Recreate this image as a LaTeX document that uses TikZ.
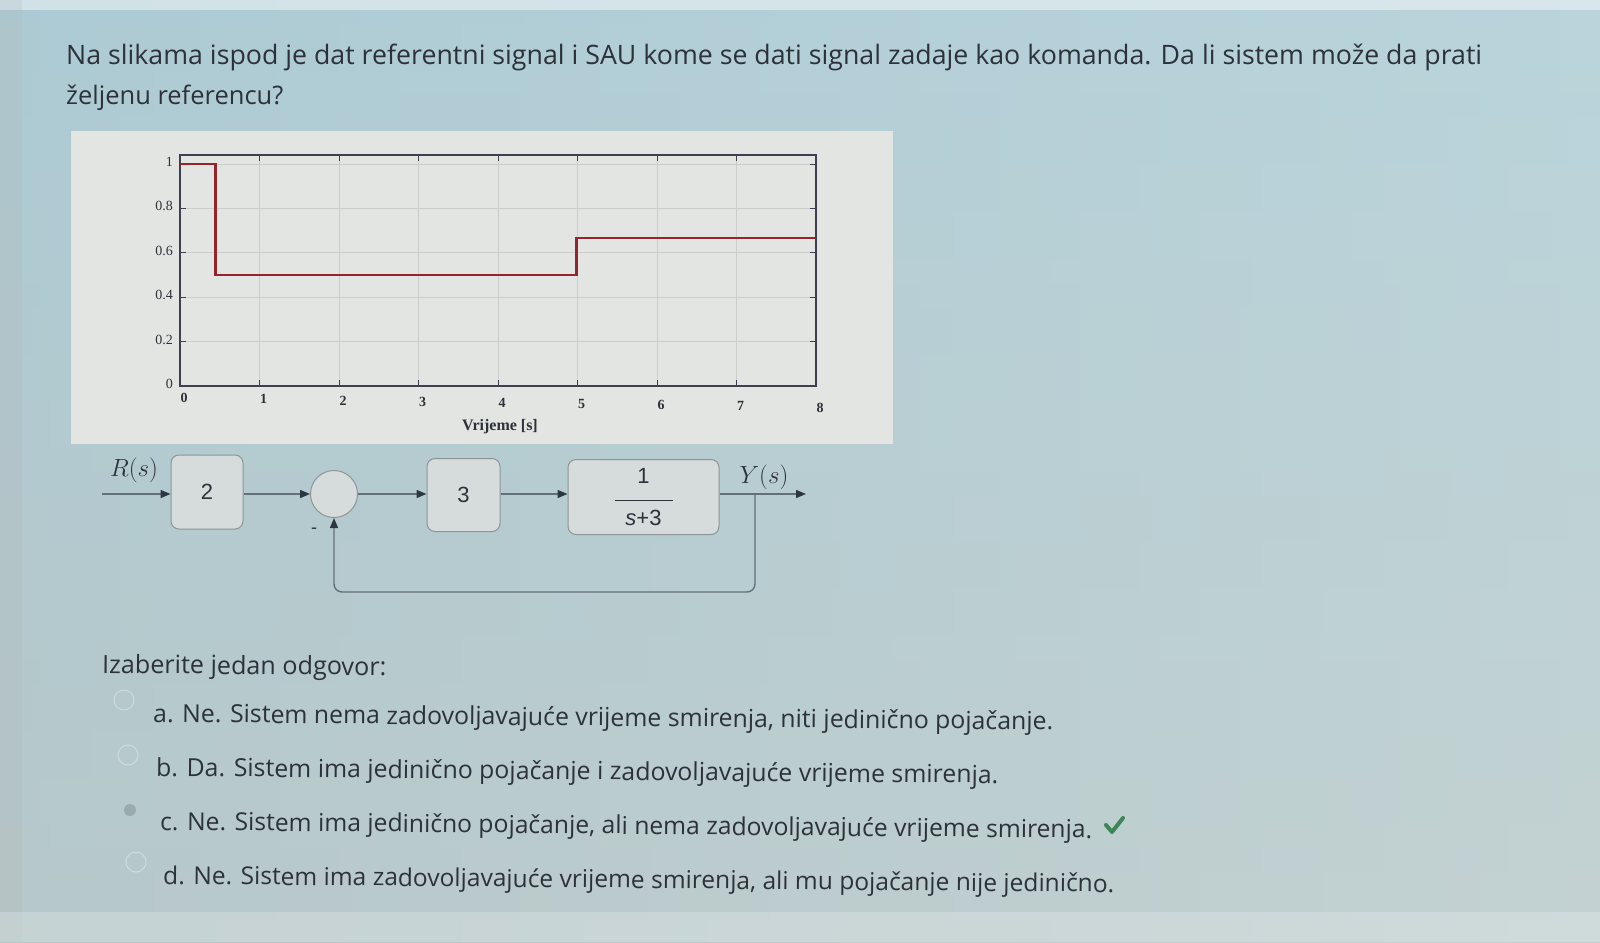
\documentclass[tikz,border=0pt]{standalone}
\usepackage{fontspec}
\setmainfont{Open Sans}
\newfontfamily\serif{Liberation Serif}
\newfontfamily\lsans{Liberation Sans}
\usetikzlibrary{arrows.meta,calc}
\definecolor{bgL}{RGB}{176,200,206}
\definecolor{bgR}{RGB}{202,220,222}
\definecolor{bgT}{RGB}{170,205,218}
\definecolor{bgB}{RGB}{190,200,198}
\definecolor{panel}{RGB}{226,229,226}
\definecolor{gridc}{RGB}{203,207,204}
\definecolor{axc}{RGB}{60,64,80}
\definecolor{sigred}{RGB}{150,36,44}
\definecolor{blkfill}{RGB}{214,219,219}
\definecolor{blkdraw}{RGB}{140,150,152}
\definecolor{wire}{RGB}{100,112,120}
\definecolor{tipc}{RGB}{45,55,65}
\definecolor{txt}{RGB}{45,50,58}
\definecolor{okgreen}{RGB}{60,135,85}
\begin{document}
\begin{tikzpicture}[x=1pt,y=-1pt,
  qtext/.style={anchor=base west,inner sep=0pt,text=txt,font=\fontsize{24}{28}\selectfont},
  atext/.style={anchor=base west,inner sep=0pt,text=txt,rotate=-0.5,font=\fontsize{22}{26}\selectfont},
  ticklab/.style={inner sep=0pt,text=txt,font=\serif\fontsize{14}{16}\selectfont},
  blk/.style={draw=blkdraw,fill=blkfill,rounded corners=8pt,line width=1pt,inner sep=0pt,text=txt,font=\lsans\fontsize{22}{26}\selectfont},
  sumc/.style={draw=blkdraw,fill=blkfill,circle,line width=1pt,minimum size=47pt,inner sep=0pt},
  wireln/.style={draw=wire,line width=1.4pt,-{Triangle[length=10pt,width=8pt,fill=tipc,color=tipc]}},
  sig/.style={inner sep=0pt,text=txt,font=\fontsize{24}{28}\selectfont},
  radio/.style={draw=white,opacity=0.35,line width=1pt}
]
\useasboundingbox (0,0) rectangle (1600,942);
% background
\shade[left color=bgL,right color=bgR] (0,0) rectangle (1600,942);
\shade[top color=bgT,bottom color=bgB,opacity=0.5] (0,0) rectangle (1600,942);
\fill[white,opacity=0.45] (0,0) rectangle (1600,10);
\fill[black!30,opacity=0.2] (0,0) rectangle (22,942);
\fill[white,opacity=0.2] (0,912) rectangle (1600,942);

% question
\node[qtext] (q1) at (66,64) {\resizebox{1416pt}{!}{Na slikama ispod je dat referentni signal i SAU kome se dati signal zadaje kao komanda. Da li sistem može da prati}};
\node[qtext] (q2) at (66,104) {\resizebox{217pt}{!}{željenu referencu?}};

% plot panel
\fill[panel] (71,131) rectangle (893,444);
\foreach \t in {1,...,7} \draw[gridc,line width=0.8pt] ({180+79.5*\t},155) -- ({180+79.5*\t},386);
\foreach \v in {0.2,0.4,0.6,0.8,1.0} \draw[gridc,line width=0.8pt] (180,{386-222*\v}) -- (816,{386-222*\v});
\draw[axc,line width=1.3pt] (180,155) rectangle (816,386);
\foreach \t in {1,...,7} {
  \draw[axc,line width=1pt] ({180+79.5*\t},386) -- ({180+79.5*\t},380);
  \draw[axc,line width=1pt] ({180+79.5*\t},155) -- ({180+79.5*\t},161);
}
\foreach \v in {0.2,0.4,0.6,0.8,1.0} {
  \draw[axc,line width=1pt] (180,{386-222*\v}) -- (186,{386-222*\v});
  \draw[axc,line width=1pt] (816,{386-222*\v}) -- (810,{386-222*\v});
}
\foreach \v/\l in {0/0,0.2/0.2,0.4/0.4,0.6/0.6,0.8/0.8,1/1}
  \node[ticklab,anchor=east] at (173,{384-222*\v}) {\l};
\foreach \t in {0,...,8}
  \node[ticklab,font=\serif\bfseries\fontsize{14}{16}\selectfont] at ({184+79.5*\t},{398+1.2*\t}) {\t};
\node[ticklab,font=\serif\bfseries\fontsize{16}{18}\selectfont] (xl) at (500,427) {Vrijeme [s]};
\draw[sigred,line width=2.6pt,line join=miter]
  (180,{386-222*1}) -- ({180+79.5*0.45},{386-222*1}) -- ({180+79.5*0.45},{386-222*0.5})
  -- ({180+79.5*4.99},{386-222*0.5}) -- ({180+79.5*4.99},{386-222*0.667}) -- (816,{386-222*0.667});

% block diagram
\node[blk,minimum width=72pt,minimum height=74pt] (b2) at (207,492) {2};
\node[sumc] (sum) at (334,494) {};
\node[blk,minimum width=73pt,minimum height=73pt] (b3) at (463.5,495) {3};
\node[blk,minimum width=151pt,minimum height=75pt,align=center,font=\lsans\fontsize{22}{24}\selectfont] (bg) at (643.5,497) {1\\[-6pt]\rule{58pt}{1.3pt}\\[0pt]{\itshape s}+3};
\coordinate (in) at (102,494);
\coordinate (out) at (806,494);
\coordinate (tap) at (755,494);
\coordinate (fb1) at (755,592);
\coordinate (fb2) at (334,592);
\node[sig] (R) at (134,470) {$R(s)$};
\node[sig] (Y) at (764,477) {$Y(s)$};
\node[sig,font=\lsans\fontsize{18}{20}\selectfont] (minus) at (314,531) {-};
\draw[wireln] (in) -- (b2.west |- in);
\draw[wireln] (b2.east |- sum.west) -- (sum.west);
\draw[wireln] (sum.east) -- (b3.west |- sum.east);
\draw[wireln] (b3.east |- sum.east) -- (bg.west |- sum.east);
\draw[wireln] (bg.east |- out) -- (out);
\draw[wireln,rounded corners=8pt] (tap) -- (fb1) -- (fb2) -- (sum.south);

% answers
\node[atext] (hd) at (102,673) {\resizebox{284pt}{!}{Izaberite jedan odgovor:}};
\draw[radio] (124,700) circle (10);
\node[atext] (oa) at (153,722) {\resizebox{900pt}{!}{a. Ne. Sistem nema zadovoljavajuće vrijeme smirenja, niti jedinično pojačanje.}};
\draw[radio] (128,755) circle (10);
\node[atext] (ob) at (156,776) {\resizebox{842pt}{!}{b. Da. Sistem ima jedinično pojačanje i zadovoljavajuće vrijeme smirenja.}};
\fill[black,opacity=0.15] (130,810) circle (6);
\node[atext] (oc) at (160,830) {\resizebox{932pt}{!}{c. Ne. Sistem ima jedinično pojačanje, ali nema zadovoljavajuće vrijeme smirenja.}};
\draw[okgreen,line width=4pt,line cap=round,line join=round] (1106,825) -- (1112,832) -- (1123,818);
\draw[radio] (136,862) circle (10);
\node[atext] (od) at (163,884) {\resizebox{951pt}{!}{d. Ne. Sistem ima zadovoljavajuće vrijeme smirenja, ali mu pojačanje nije jedinično.}};
\end{tikzpicture}
\end{document}
